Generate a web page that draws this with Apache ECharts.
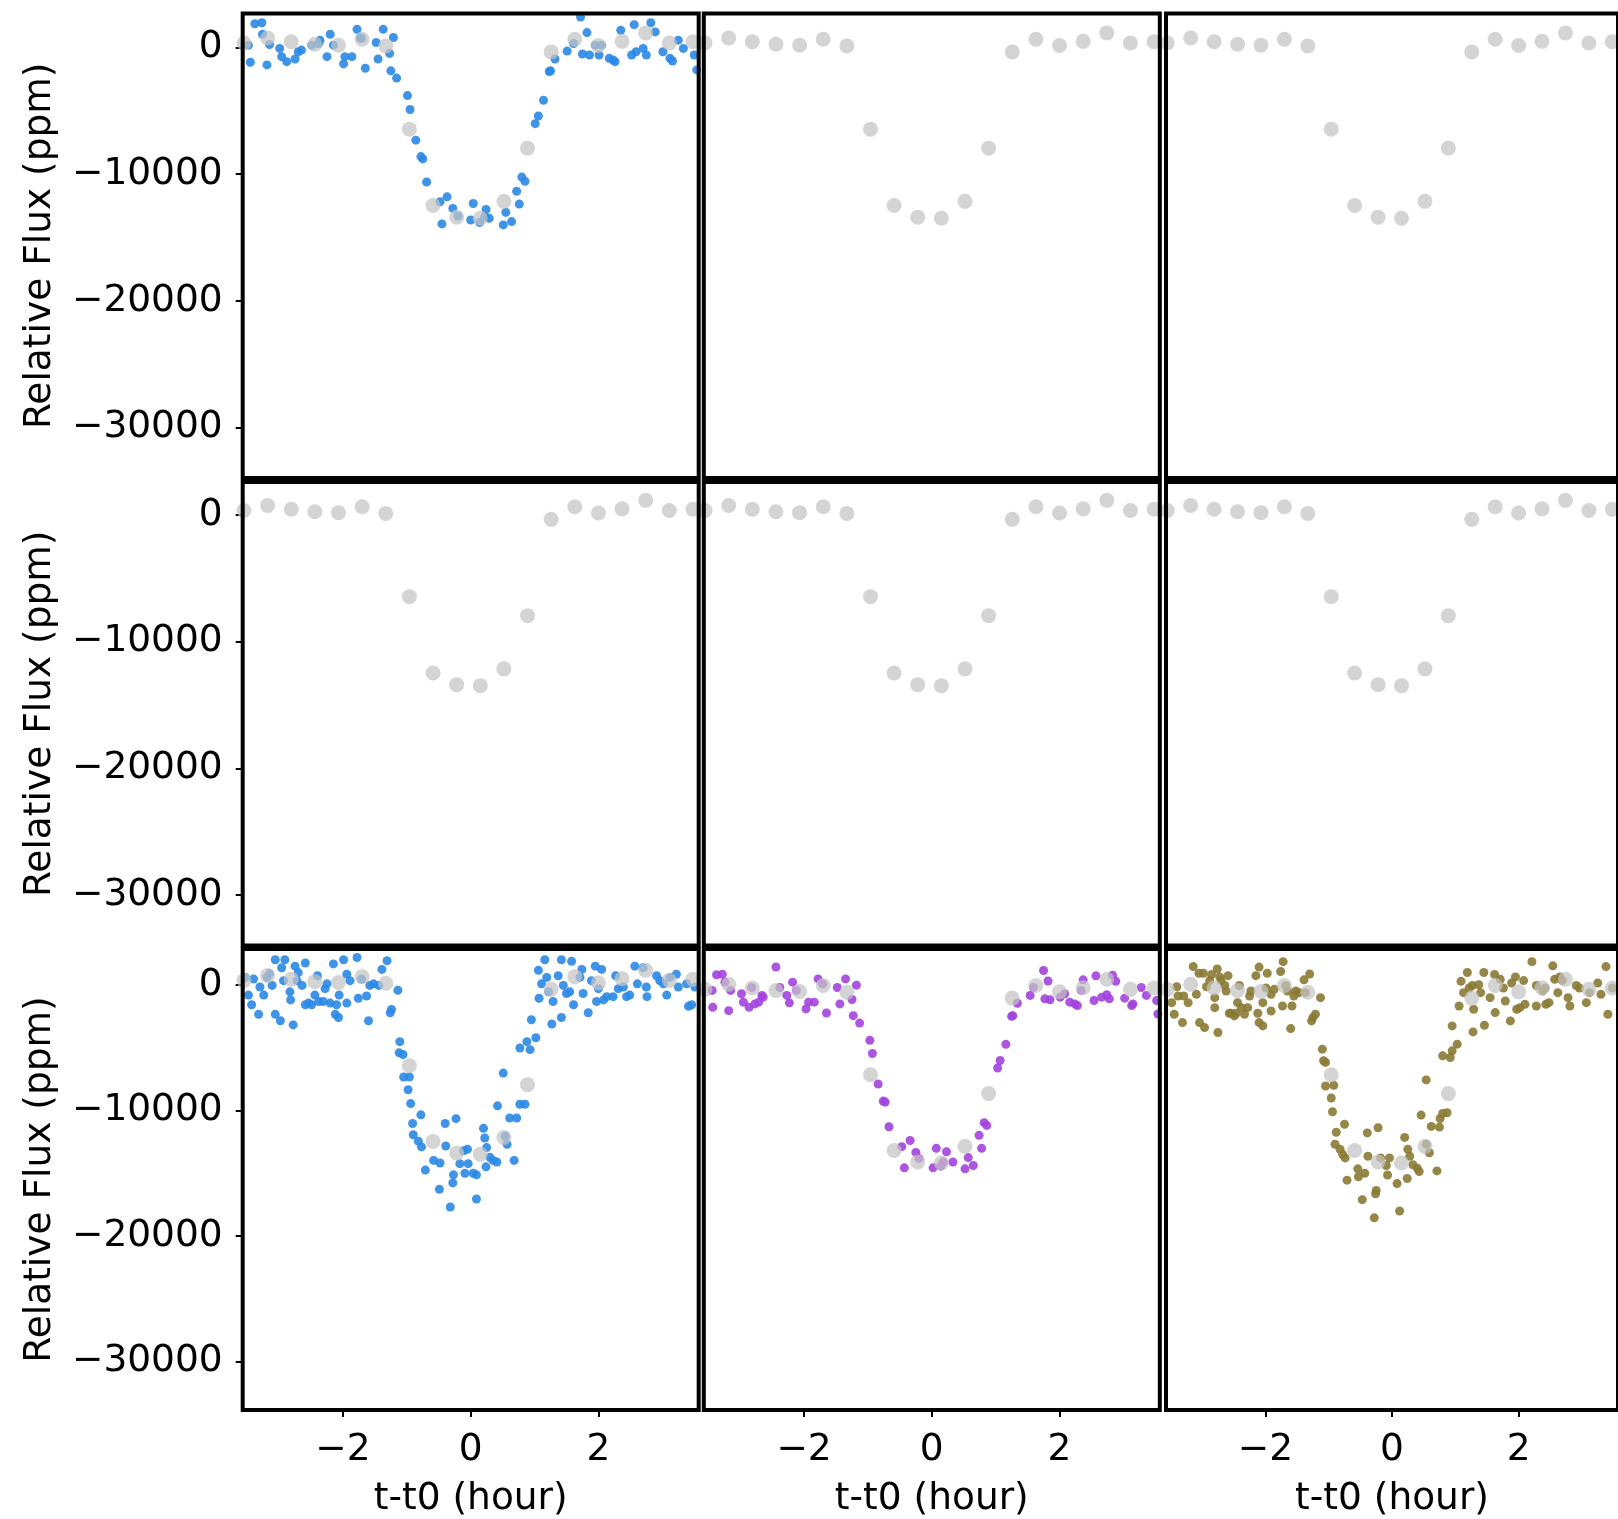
<!DOCTYPE html>
<html><head><meta charset="utf-8">
<script src="https://cdn.jsdelivr.net/npm/echarts@6/dist/echarts.min.js"></script>
<style>html,body{margin:0;padding:0;background:#fff}#c{width:1618px;height:1519px}</style>
</head><body><div id="c"></div><script>
// ---- data ----
const xTicks = [-2, 0, 2];
const yTicks = [0, -10000, -20000, -30000];
const xLabel = 't-t0 (hour)';
const yLabel = 'Relative Flux (ppm)';

// binned points (grey), same in every panel
const greyX = [-3.55,-3.18,-2.81,-2.44,-2.07,-1.70,-1.33,-0.96,-0.59,-0.22,0.15,0.52,0.89,1.26,1.63,2.00,2.37,2.74,3.11,3.48];
const greyY = [350,750,450,250,180,650,120,-6450,-12480,-13400,-13480,-12150,-7950,-350,650,150,480,1150,350,450];

// top-left panel (blue)
const blueTop = [[-3.38,1875],[-3.27,1953],[-3.48,182],[-3.45,-1172],[-3.26,1042],[-3.19,-1380],[-3.15,234],[-2.99,-78],[-2.96,-729],[-2.88,-1120],[-2.75,-911],[-2.70,-339],[-2.65,-208],[-2.49,182],[-2.38,312],[-2.36,573],[-2.25,-729],[-2.20,1042],[-2.15,182],[-1.99,-1302],[-1.97,-729],[-1.86,-729],[-1.78,1432],[-1.73,755],[-1.71,703],[-1.65,-1641],[-1.48,391],[-1.45,-911],[-1.37,1432],[-1.27,-469],[-1.21,781],[-1.25,-1849],[-1.16,-2422],[-0.99,-3802],[-0.95,-4896],[-0.86,-7317],[-0.78,-8619],[-0.75,-8802],[-0.69,-10624],[-0.48,-12187],[-0.37,-11796],[-0.45,-13931],[-0.28,-12708],[-0.20,-13306],[0.04,-12317],[0.00,-13619],[0.14,-13827],[0.24,-12786],[0.29,-13489],[0.22,-13359],[0.51,-14010],[0.55,-13020],[0.64,-13749],[0.72,-11353],[0.76,-12369],[0.80,-10234],[0.85,-10572],[1.01,-6015],[1.06,-5416],[1.14,-4166],[1.23,-1901],[1.25,-1849],[1.32,-911],[1.51,-286],[1.61,312],[1.72,2396],[1.75,-521],[1.82,1172],[1.86,-599],[1.95,182],[2.01,-599],[2.05,182],[2.17,-859],[2.23,-990],[2.26,-1120],[2.35,1354],[2.52,-599],[2.56,1797],[2.59,-339],[2.70,-78],[2.75,-599],[2.82,1953],[2.89,1224],[3.01,-339],[3.12,-859],[3.16,-1068],[3.25,573],[3.33,-78],[3.50,-599],[3.54,-1771]];

// bottom-left panel (blue)
const blueBottom = [[-3.53,588],[-3.48,-818],[-3.43,-1585],[-3.40,460],[-3.32,-2352],[-3.30,-179],[-3.24,-818],[-3.19,588],[-3.15,895],[-3.11,-51],[-3.06,1994],[-3.06,-2352],[-2.98,-2863],[-2.96,1355],[-2.91,1994],[-2.93,332],[-2.83,-562],[-2.82,-1201],[-2.78,-3195],[-2.75,1482],[-2.72,332],[-2.70,971],[-2.64,-51],[-2.59,1738],[-2.59,-1585],[-2.54,-1457],[-2.49,-1585],[-2.44,-818],[-2.40,716],[-2.38,-1329],[-2.31,-1329],[-2.28,-307],[-2.25,77],[-2.20,-1457],[-2.15,1661],[-2.12,-2352],[-2.10,-1585],[-2.07,-2607],[-2.06,-818],[-1.99,1994],[-1.94,843],[-1.94,-1457],[-1.89,332],[-1.78,2173],[-1.76,-1074],[-1.71,460],[-1.63,-895],[-1.60,-2863],[-1.58,-51],[-1.52,77],[-1.44,-51],[-1.39,1227],[-1.31,1917],[-1.26,-2224],[-1.24,-1968],[-1.14,-435],[-1.11,-4524],[-1.12,-5419],[-1.06,-5547],[-1.05,-7336],[-0.96,-7336],[-0.98,-8358],[-0.94,-9457],[-0.91,-11042],[-0.78,-10352],[-0.90,-11937],[-0.82,-12448],[-0.77,-12908],[-0.71,-14749],[-0.58,-13981],[-0.48,-14186],[-0.49,-16282],[-0.40,-11042],[-0.39,-12831],[-0.32,-17688],[-0.28,-15771],[-0.27,-15131],[-0.23,-10659],[-0.17,-14237],[-0.11,-13215],[-0.09,-15004],[-0.05,-13087],[-0.04,-14237],[0.04,-15004],[0.09,-17049],[0.09,-15131],[0.20,-11425],[0.22,-12192],[0.24,-14493],[0.25,-12959],[0.30,-13726],[0.35,-13981],[0.41,-14109],[0.42,-9636],[0.51,-7029],[0.54,-12064],[0.57,-12703],[0.61,-10607],[0.68,-13981],[0.72,-10607],[0.77,-9508],[0.85,-9508],[0.77,-5035],[0.88,-4524],[0.93,-5163],[0.95,-2786],[1.02,-4217],[1.06,1150],[1.07,-1074],[1.11,77],[1.16,1994],[1.19,588],[1.22,-562],[1.27,-3118],[1.29,-1329],[1.37,716],[1.42,1994],[1.42,-2607],[1.45,-51],[1.50,-690],[1.55,-562],[1.58,1866],[1.61,-1585],[1.71,588],[1.74,1227],[1.76,-690],[1.84,-2224],[1.89,332],[1.95,1482],[1.97,-1329],[2.00,-307],[2.05,1227],[2.08,-1201],[2.13,-946],[2.23,-946],[2.27,716],[2.31,-307],[2.39,-179],[2.44,-946],[2.49,-818],[2.57,1482],[2.61,77],[2.70,1355],[2.75,-179],[2.76,-946],[2.91,716],[2.96,332],[3.02,77],[3.07,-818],[3.12,588],[3.22,843],[3.25,-179],[3.38,77],[3.41,-1713],[3.46,-1585],[3.51,-179]];

// bottom-middle panel (purple)
const purpleBottom = [[-3.44,266],[-3.43,-1077],[-3.37,1514],[-3.28,1551],[-3.24,920],[-3.18,-1346],[-3.15,266],[-2.98,-3],[-2.95,-674],[-2.86,-1077],[-2.82,493],[-2.77,-809],[-2.71,-674],[-2.66,-137],[-2.64,-272],[-2.44,2127],[-2.38,493],[-2.27,-137],[-2.23,-728],[-2.18,920],[-2.12,266],[-1.97,-1212],[-1.93,-674],[-1.84,-674],[-1.78,1180],[-1.71,771],[-1.65,-1534],[-1.48,493],[-1.44,-809],[-1.35,1180],[-1.25,-460],[-1.18,679],[-1.23,-1749],[-1.13,-2340],[-0.97,-3710],[-0.93,-4757],[-0.84,-7186],[-0.76,-8548],[-0.73,-8630],[-0.67,-10592],[-0.47,-12173],[-0.34,-11682],[-0.43,-13862],[-0.25,-12636],[-0.20,-13126],[0.02,-13862],[0.07,-12309],[0.14,-13726],[0.23,-12581],[0.33,-13399],[0.18,-13399],[0.52,-13944],[0.57,-13045],[0.65,-13671],[0.78,-12309],[0.74,-11273],[0.82,-10265],[0.86,-10483],[1.03,-5912],[1.07,-5321],[1.16,-4032],[1.25,-1803],[1.27,-1749],[1.34,-755],[1.54,-137],[1.59,493],[1.75,1848],[1.77,-406],[1.82,1013],[1.85,-486],[2.01,-272],[2.08,-3],[2.16,-674],[2.24,-809],[2.28,-943],[2.37,1106],[2.34,266],[2.54,-540],[2.57,1421],[2.66,-272],[2.74,-83],[2.78,-406],[2.83,1477],[2.88,994],[3.02,-352],[3.13,-943],[3.15,-809],[3.28,493],[3.36,-137],[3.52,-540],[3.54,-1615]];

// bottom-right panel (olive)
const oliveBottom = [[-3.48,-711],[-3.44,-1637],[-3.40,556],[-3.38,-182],[-3.31,-2298],[-3.29,-182],[-3.22,-711],[-3.14,2160],[-3.09,-50],[-3.05,1632],[-3.04,-2298],[-2.98,1632],[-2.96,-2695],[-2.93,556],[-2.88,1045],[-2.85,1534],[-2.80,-314],[-2.80,-1108],[-2.76,1964],[-2.75,-3091],[-2.72,1338],[-2.70,1045],[-2.64,654],[-2.62,215],[-2.59,1436],[-2.57,-1557],[-2.54,-1557],[-2.49,-1769],[-2.46,-1557],[-2.44,-711],[-2.41,654],[-2.38,-1108],[-2.33,-1637],[-2.28,-1108],[-2.25,-182],[-2.23,215],[-2.15,1436],[-2.12,-1557],[-2.10,2120],[-2.10,-2298],[-2.04,-2562],[-2.04,-711],[-1.99,459],[-1.97,1632],[-1.91,-50],[-1.91,-1372],[-1.86,347],[-1.76,1769],[-1.73,-975],[-1.72,2550],[-1.68,654],[-1.65,215],[-1.60,-2774],[-1.58,-975],[-1.55,-182],[-1.52,215],[-1.47,83],[-1.39,1104],[-1.37,83],[-1.30,1573],[-1.27,-2166],[-1.25,-1901],[-1.21,-1637],[-1.13,-314],[-1.10,-4414],[-1.08,-5339],[-1.05,-5471],[-1.05,-7349],[-0.96,-8303],[-0.92,-7295],[-0.94,-9393],[-0.88,-11028],[-0.75,-10401],[-0.90,-11982],[-0.82,-12391],[-0.78,-12800],[-0.74,-13072],[-0.71,-14843],[-0.54,-13944],[-0.53,-14571],[-0.43,-14298],[-0.47,-16396],[-0.39,-11083],[-0.38,-12936],[-0.28,-17841],[-0.25,-15661],[-0.26,-15933],[-0.22,-10674],[-0.18,-13072],[-0.09,-13672],[-0.07,-14434],[-0.04,-13072],[0.08,-15116],[0.12,-17296],[0.20,-11437],[0.24,-14707],[0.25,-12391],[0.28,-12936],[0.33,-13617],[0.40,-13890],[0.43,-14162],[0.46,-9665],[0.54,-6859],[0.54,-11982],[0.62,-10565],[0.59,-12663],[0.71,-14107],[0.75,-10619],[0.76,-9938],[0.80,-9529],[0.87,-9475],[0.80,-4943],[0.92,-5075],[0.95,-2562],[0.95,-4546],[1.03,-4017],[1.06,-975],[1.09,986],[1.13,83],[1.19,1690],[1.22,459],[1.27,654],[1.28,-3039],[1.29,-1240],[1.37,713],[1.40,83],[1.45,1690],[1.46,-2510],[1.55,-314],[1.62,1534],[1.63,-1504],[1.71,1143],[1.76,459],[1.79,-579],[1.87,-2166],[1.89,850],[1.95,1338],[1.97,-1240],[2.02,-1108],[2.08,1045],[2.10,-843],[2.21,2550],[2.28,654],[2.28,-975],[2.38,215],[2.42,459],[2.43,-843],[2.48,-711],[2.54,2218],[2.57,1143],[2.62,83],[2.65,1338],[2.69,1045],[2.78,-314],[2.81,-975],[2.91,654],[2.96,459],[3.07,-711],[3.12,83],[3.25,850],[3.30,-50],[3.38,2160],[3.41,-1637],[3.48,459]];

// ---- layout / style ----
const BLUE = '#2a88e6', PURPLE = '#a243de', OLIVE = '#8a7a33';
const colLeft = [242.7, 703.8, 1166];
const colWidth = 456;
const rowTop = [13.5, 482, 949];
// y-range of each panel [row][col]
const yRange = [
  [[-34000, 2680], [-34000, 2680], [-34000, 2680]],
  [[-34000, 2600], [-34000, 2600], [-34000, 2600]],
  [[-33850, 2850], [-33140, 3560], [-33140, 3560]]
];
const pxPerUnit = 464.6 / 36680;
const xRange = [-3.57, 3.57];
const FONT = 'DejaVu Sans';
const FS = 37.5;

const colored = {
  '0_0': { data: blueTop, color: BLUE },
  '2_0': { data: blueBottom, color: BLUE },
  '2_1': { data: purpleBottom, color: PURPLE },
  '2_2': { data: oliveBottom, color: OLIVE }
};

const minus = v => String(v).replace('-', '\u2212');
const grids = [], xAxes = [], yAxes = [], series = [];
const greyData = greyX.map((x, i) => [x, greyY[i]]);

for (let r = 0; r < 3; r++) {
  for (let c = 0; c < 3; c++) {
    const i = r * 3 + c;
    const yr = yRange[r][c];
    const h = (yr[1] - yr[0]) * pxPerUnit;
    grids.push({
      left: colLeft[c], top: rowTop[r], width: colWidth, height: h,
      show: true, borderColor: '#000', borderWidth: 4,
      backgroundColor: 'transparent', z: 10
    });
    const showX = r === 2, showY = c === 0;
    xAxes.push({
      gridIndex: i, type: 'value', min: xRange[0], max: xRange[1], position: 'bottom',
      splitLine: { show: false }, axisLine: { show: false, onZero: false },
      axisTick: { show: showX, inside: false, length: 7, lineStyle: { color: '#000', width: 2 }, customValues: xTicks },
      axisLabel: { show: showX, customValues: xTicks, formatter: minus, fontFamily: FONT, fontSize: FS, color: '#000', margin: 21 },
      name: showX ? xLabel : '', nameLocation: 'middle', nameGap: 70,
      nameTextStyle: { fontFamily: FONT, fontSize: FS, color: '#000' }
    });
    yAxes.push({
      gridIndex: i, type: 'value', min: yr[0], max: yr[1], position: 'left',
      splitLine: { show: false }, axisLine: { show: false, onZero: false },
      axisTick: { show: showY, inside: false, length: 7, lineStyle: { color: '#000', width: 2 }, customValues: yTicks },
      axisLabel: { show: showY, customValues: yTicks, formatter: minus, fontFamily: FONT, fontSize: FS, color: '#000', margin: 20, padding: [10, 0, 0, 0] },
      name: showY ? yLabel : '', nameLocation: 'middle', nameGap: 183, nameRotate: 90,
      nameTextStyle: { fontFamily: FONT, fontSize: FS, color: '#000' }
    });
    const col = colored[r + '_' + c];
    if (col) {
      series.push({
        type: 'scatter', xAxisIndex: i, yAxisIndex: i, data: col.data,
        symbolSize: 9, itemStyle: { color: col.color, opacity: 0.9 }, z: 2, silent: true
      });
    }
    series.push({
      type: 'scatter', xAxisIndex: i, yAxisIndex: i, data: greyData,
      symbolSize: 15, itemStyle: { color: 'rgb(196,196,196)', opacity: 0.72 }, z: 3, silent: true
    });
  }
}

const chart = echarts.init(document.getElementById('c'), null, { renderer: 'canvas' });
chart.setOption({
  animation: false, backgroundColor: '#fff',
  grid: grids, xAxis: xAxes, yAxis: yAxes, series: series
});
</script></body></html>
